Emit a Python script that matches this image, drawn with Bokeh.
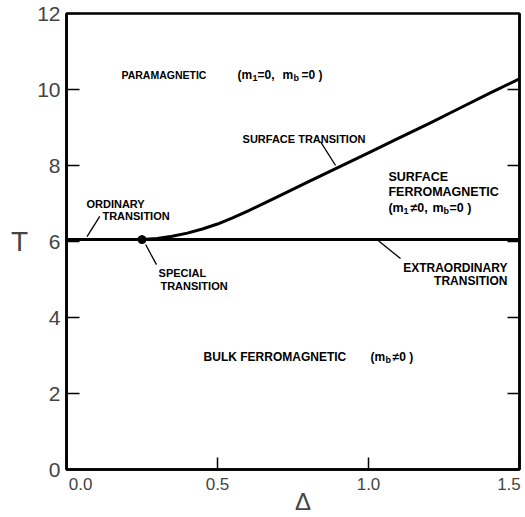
from bokeh.plotting import figure
from bokeh.models import Range1d, LinearAxis, FixedTicker
from bokeh.models import Label
from bokeh.embed import file_html
from bokeh.resources import INLINE

# Phase boundaries in the (Delta, T) plane
delta_bulk = [0.0, 1.5]
T_bulk = [6.05, 6.05]

delta_surface = [0.25, 0.30, 0.35, 0.40, 0.45, 0.50, 0.55, 0.60, 0.65, 0.70,
                 0.80, 0.90, 1.00, 1.10, 1.20, 1.30, 1.40, 1.50]
T_surface = [6.05, 6.08, 6.14, 6.22, 6.33, 6.46, 6.62, 6.80, 6.99, 7.18,
             7.57, 7.95, 8.33, 8.72, 9.10, 9.50, 9.90, 10.28]

# special (multicritical) point
delta_special = [0.25]
T_special = [6.05]

NBSP = "\u00a0"
x_ticks = [0.0, 0.5, 1.0, 1.5]
# end labels are padded so they sit inside the frame edges
x_tick_labels = {0.0: NBSP * 6 + "0.0", 0.5: "0.5", 1.0: "1.0", 1.5: "1.5" + NBSP}
y_ticks = [0, 2, 4, 6, 8, 10, 12]
y_right_ticks = [2, 4, 6, 8, 10]

TICK_FONT = "Liberation Sans"
NOTE_FONT = "Liberation Sans"

p = figure(width=525, height=517, output_backend="svg", toolbar_location=None,
           x_range=Range1d(0, 1.5), y_range=Range1d(0, 12),
           min_border_left=66, min_border_right=6, min_border_top=13,
           min_border_bottom=48)
p.grid.visible = False
p.background_fill_color = "white"
p.border_fill_color = "white"
p.outline_line_color = "black"
p.outline_line_width = 2.5

# bottom axis
xa = p.xaxis[0]
xa.ticker = FixedTicker(ticks=x_ticks)
xa.major_label_overrides = x_tick_labels
xa.major_label_text_font = TICK_FONT
xa.major_label_text_font_size = "17px"
xa.major_label_standoff = 5
xa.major_tick_in = 12
xa.major_tick_out = 0
xa.major_tick_line_width = 1.5
xa.minor_tick_line_color = None
xa.axis_line_width = 2.5
xa.axis_label = NBSP * 3 + "\u0394"
xa.axis_label_text_font = TICK_FONT
xa.axis_label_text_font_style = "normal"
xa.axis_label_text_font_size = "24px"
xa.axis_label_standoff = -9

# left axis
ya = p.yaxis[0]
ya.ticker = FixedTicker(ticks=y_ticks)
ya.major_label_text_font = TICK_FONT
ya.major_label_text_font_size = "21px"
ya.major_label_standoff = 6
ya.major_tick_in = 13
ya.major_tick_out = 0
ya.major_tick_line_width = 1.5
ya.minor_tick_line_color = None
ya.axis_line_width = 2.5
ya.axis_label = "T"
ya.axis_label_text_font = TICK_FONT
ya.axis_label_text_font_style = "normal"
ya.axis_label_text_font_size = "28px"
ya.axis_label_orientation = "horizontal"
ya.axis_label_standoff = 6

# right axis: inward ticks only
ra = LinearAxis(ticker=FixedTicker(ticks=y_right_ticks))
ra.major_label_overrides = {t: "" for t in y_right_ticks}
ra.major_label_standoff = 0
ra.major_tick_in = 12
ra.major_tick_out = 0
ra.major_tick_line_width = 1.5
ra.minor_tick_line_color = None
ra.axis_line_width = 2.5
p.add_layout(ra, "right")

# phase boundaries
p.line(delta_bulk, T_bulk, line_color="black", line_width=3)
p.line(delta_surface, T_surface, line_color="black", line_width=3,
       line_join="round", line_cap="round")
p.scatter(delta_special, T_special, size=8, color="black")


def note(x, y, text, size="12px", dx=0, dy=0, align="left"):
    p.add_layout(Label(x=x, y=y, x_offset=dx, y_offset=dy, text=text,
                       text_font=NOTE_FONT, text_font_size=size,
                       text_font_style="bold", text_align=align,
                       text_baseline="alphabetic", text_color="black"))


def pieces(x, y, parts, size, sub_size="9px"):
    for txt, dx, is_sub in parts:
        if is_sub:
            note(x, y, txt, size=sub_size, dx=dx, dy=-3)
        else:
            note(x, y, txt, size=size, dx=dx)


# region labels
note(0.182, 10.37, "PARAMAGNETIC", size="10.5px")
pieces(0.182, 10.37, [("(m", 116, False), ("1", 131, True), ("=0,", 136, False),
                      ("m", 161, False), ("b", 172, True), ("=0 )", 180, False)],
       size="12px")

note(0.583, 8.71, "SURFACE  TRANSITION", size="11px")

note(1.066, 7.71, "SURFACE", size="12.5px")
note(1.066, 7.29, "FERROMAGNETIC", size="12.5px")
pieces(1.066, 6.87, [("(m", 0, False), ("1", 15, True), ("\u22600,", 22, False),
                     ("m", 44, False), ("b", 55, True), ("=0 )", 61, False)],
       size="12.5px")

pieces(0.454, 2.95, [("BULK  FERROMAGNETIC", 0, False), ("(m", 167, False),
                     ("b", 182, True), ("\u22600 )", 189, False)],
       size="12px")

# transition labels with leader lines
note(0.066, 6.99, "ORDINARY", size="11px")
note(0.119, 6.68, "TRANSITION", size="11px")
note(0.305, 5.18, "SPECIAL", size="11px")
note(0.311, 4.84, "TRANSITION", size="11px")
note(1.460, 5.29, "EXTRAORDINARY", size="12px", align="right")
note(1.460, 4.95, "TRANSITION", size="12px", align="right")

p.segment(x0=[0.110, 0.262, 0.841, 1.033], y0=[6.66, 5.92, 8.63, 6.02],
          x1=[0.068, 0.298, 0.891, 1.106], y1=[6.13, 5.39, 8.00, 5.55],
          line_color="black", line_width=1.3)

open("out.html", "w").write(file_html(p, INLINE))
